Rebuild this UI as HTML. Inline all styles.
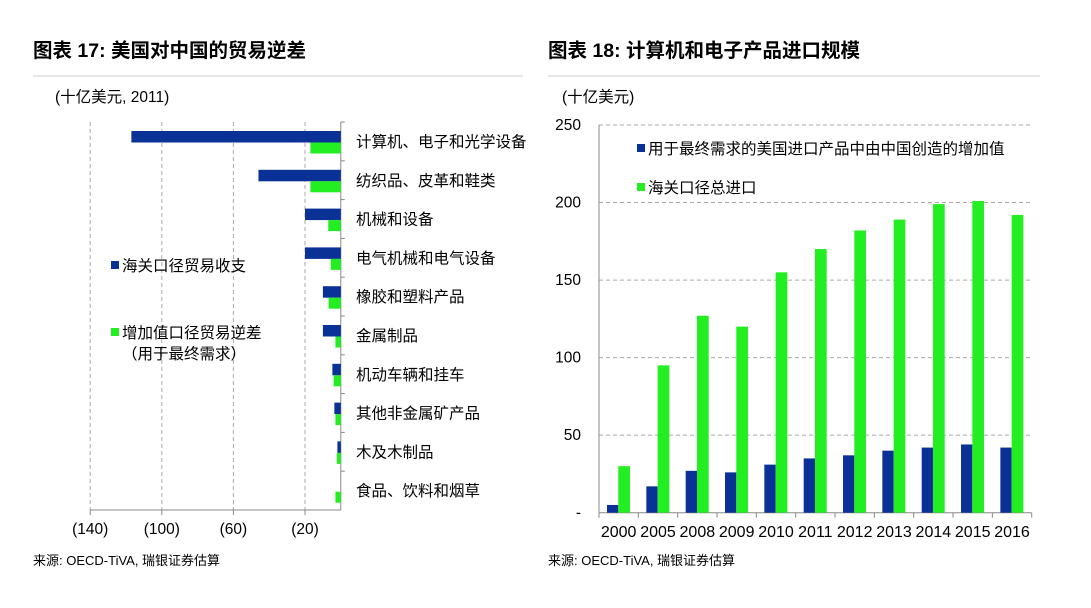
<!DOCTYPE html>
<html><head><meta charset="utf-8"><style>
body{margin:0;background:#fff;width:1091px;height:603px;overflow:hidden;font-family:"Liberation Sans","Noto Sans CJK SC",sans-serif;}
svg text{font-family:"Liberation Sans","Noto Sans CJK SC",sans-serif;}
</style></head><body>
<svg id="s" width="1091" height="603">
<text x="33" y="57" font-size="19.5" font-weight="bold" fill="#000">图表 17: 美国对中国的贸易逆差</text>
<line x1="33" y1="76" x2="523" y2="76" stroke="#ccc" stroke-width="1"/>
<text x="548" y="57" font-size="19.5" font-weight="bold" fill="#000">图表 18: 计算机和电子产品进口规模</text>
<line x1="548" y1="76" x2="1040" y2="76" stroke="#ccc" stroke-width="1"/>
<text x="55" y="102" font-size="15.5">(十亿美元, 2011)</text>
<text x="562" y="102" font-size="15.5">(十亿美元)</text>
<text x="33" y="565" font-size="13">来源: OECD-TiVA, 瑞银证券估算</text>
<text x="548" y="565" font-size="13">来源: OECD-TiVA, 瑞银证券估算</text>
<g id="L"></g><g id="R"></g>
</svg>
<script>
const leftCategories=["计算机、电子和光学设备","纺织品、皮革和鞋类","机械和设备","电气机械和电气设备","橡胶和塑料产品","金属制品","机动车辆和挂车","其他非金属矿产品","木及木制品","食品、饮料和烟草"];
const customsBalance=[-117,-46,-20,-20,-10,-10,-4.7,-3.6,-1.9,0];
const valueAddedDeficit=[-17,-17,-7,-5.6,-6.8,-3,-4,-3,-2.2,-3];
const leftTicks=[-140,-100,-60,-20];
const leftTickLabels=["(140)","(100)","(60)","(20)"];
const years=["2000","2005","2008","2009","2010","2011","2012","2013","2014","2015","2016"];
const valueAddedImports=[5,17,27,26,31,35,37,40,42,44,42];
const customsImports=[30,95,127,120,155,170,182,189,199,201,192];
const rightTicks=[0,50,100,150,200,250];
const rightTickLabels=["-","50","100","150","200","250"];
const BLUE="#0a3195",GREEN="#22ee22";
const NS="http://www.w3.org/2000/svg";
function mk(p,t,a){const e=document.createElementNS(NS,t);for(const k in a)e.setAttribute(k,a[k]);p.appendChild(e);return e;}
const L=document.getElementById('L');
const x0=340.8,ppu=1.79,yTop=122,yBot=510,band=(yBot-yTop)/leftCategories.length;
const lx=v=>x0+v*ppu;
leftTicks.forEach((t,i)=>{
 let g=mk(L,'line',{x1:lx(t),x2:lx(t),y1:yTop,y2:yBot,stroke:'#aaa','stroke-dasharray':'4,3'});
 
 
 let tk=mk(L,'line',{x1:lx(t),x2:lx(t),y1:yBot,y2:yBot+5,stroke:'#888'});
 
 
 let tx=mk(L,'text',{x:lx(t),y:534,'font-size':15.5,'text-anchor':'middle'});tx.textContent=leftTickLabels[i];
 
 
});
let la=mk(L,'line',{x1:90,x2:x0,y1:yBot,y2:yBot,stroke:'#888'});


let lv=mk(L,'line',{x1:x0,x2:x0,y1:yTop,y2:yBot,stroke:'#888'});


leftCategories.forEach((c,i)=>{
 const by=yTop+i*band;
 let tk=mk(L,'line',{x1:x0,x2:x0+4,y1:by,y2:by,stroke:'#888'});
 
 
 const b=customsBalance[i],g=valueAddedDeficit[i];
 let r1=mk(L,'rect',{x:lx(b),y:by+9,width:x0-lx(b),height:11.5,fill:BLUE});
 
 
 let r2=mk(L,'rect',{x:lx(g),y:by+20.5,width:x0-lx(g),height:11,fill:GREEN});
 
 
 let t=mk(L,'text',{x:356,y:by+25,'font-size':15.5});t.textContent=c;
 
 
});
let q=mk(L,'rect',{x:111,y:261,width:8,height:8,fill:BLUE});


q=mk(L,'text',{x:122,y:271,'font-size':15.5});q.textContent='海关口径贸易收支';


q=mk(L,'rect',{x:111,y:328,width:8,height:8,fill:GREEN});


q=mk(L,'text',{x:122,y:338,'font-size':15.5});q.textContent='增加值口径贸易逆差';


q=mk(L,'text',{x:122,y:359,'font-size':15.5});q.textContent='（用于最终需求）';


const R=document.getElementById('R');
const ry0=512.7,rpu=(512.7-125)/250,rxL=599,rxR=1031.7,rb=(rxR-rxL)/years.length;
const ry=v=>ry0-v*rpu;
rightTicks.forEach((t,i)=>{
 if(t>0){let g=mk(R,'line',{x1:rxL,x2:rxR,y1:ry(t),y2:ry(t),stroke:'#aaa','stroke-dasharray':'4,3'});
 
 }
 let tx=mk(R,'text',{x:581,y:ry(t)+5,'font-size':15.5,'text-anchor':'end'});tx.textContent=rightTickLabels[i];
 
 
});
let ra=mk(R,'line',{x1:rxL,x2:rxR,y1:ry0,y2:ry0,stroke:'#888'});


let rv=mk(R,'line',{x1:rxL,x2:rxL,y1:125,y2:ry0,stroke:'#888'});


years.forEach((y,i)=>{
 const bx=rxL+i*rb;
 let tk=mk(R,'line',{x1:bx,x2:bx,y1:ry0,y2:ry0+5,stroke:'#888'});
 
 
 let r1=mk(R,'rect',{x:bx+8,y:ry(valueAddedImports[i]),width:11.3,height:ry0-ry(valueAddedImports[i]),fill:BLUE});
 
 
 let r2=mk(R,'rect',{x:bx+19.3,y:ry(customsImports[i]),width:11.7,height:ry0-ry(customsImports[i]),fill:GREEN});
 
 
 let t=mk(R,'text',{x:bx+rb/2,y:537,'font-size':16,'text-anchor':'middle'});t.textContent=y;
 
 
});
let tkl=mk(R,'line',{x1:rxR,x2:rxR,y1:ry0,y2:ry0+5,stroke:'#888'});


q=mk(R,'rect',{x:637,y:144,width:8,height:8,fill:BLUE});


q=mk(R,'text',{x:648,y:154,'font-size':15.5});q.textContent='用于最终需求的美国进口产品中由中国创造的增加值';


q=mk(R,'rect',{x:637,y:183,width:8,height:8,fill:GREEN});


q=mk(R,'text',{x:648,y:193,'font-size':15.5});q.textContent='海关口径总进口';


</script>
</body></html>
